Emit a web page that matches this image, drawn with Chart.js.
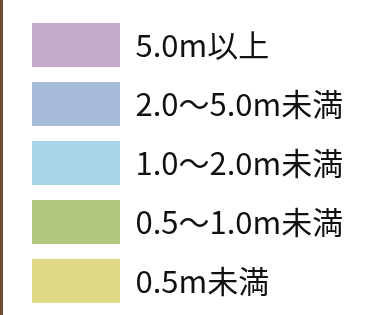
<!DOCTYPE html>
<html>
<head>
<meta charset="utf-8">
<script src="https://cdn.jsdelivr.net/npm/chart.js@4"></script>
<style>
  html, body { margin: 0; padding: 0; background: #fff; }
  #wrap { width: 379px; height: 315px; border-left: 3px solid #6e4a33; }
</style>
</head>
<body>
<div id="wrap"><canvas id="legendChart" width="379" height="315"></canvas></div>
<script>
const categories = ["5.0m以上", "2.0～5.0m未満", "1.0～2.0m未満", "0.5～1.0m未満", "0.5m未満"];
const colors = ["#c3abc9", "#a8bcda", "#a9d3e6", "#b3c87f", "#dfd985"];

new Chart("legendChart", {
  type: "bar",
  data: {
    labels: [],
    datasets: categories.map((label, i) => ({
      label: label,
      data: [],
      backgroundColor: colors[i],
      borderWidth: 0,
    })),
  },
  options: {
    responsive: false,
    animation: false,
    layout: {
      padding: { left: 14, top: 8, right: 0, bottom: 0 },
    },
    scales: {
      x: { display: false },
      y: { display: false },
    },
    plugins: {
      tooltip: { enabled: false },
      legend: {
        position: "top",
        align: "start",
        maxHeight: 400,
        onClick: null,
        labels: {
          boxWidth: 88,
          boxHeight: 44,
          padding: 15,
          color: "#111",
          font: { family: "'Noto Sans CJK JP'", size: 31 },
        },
      },
    },
  },
});
</script>
</body>
</html>
